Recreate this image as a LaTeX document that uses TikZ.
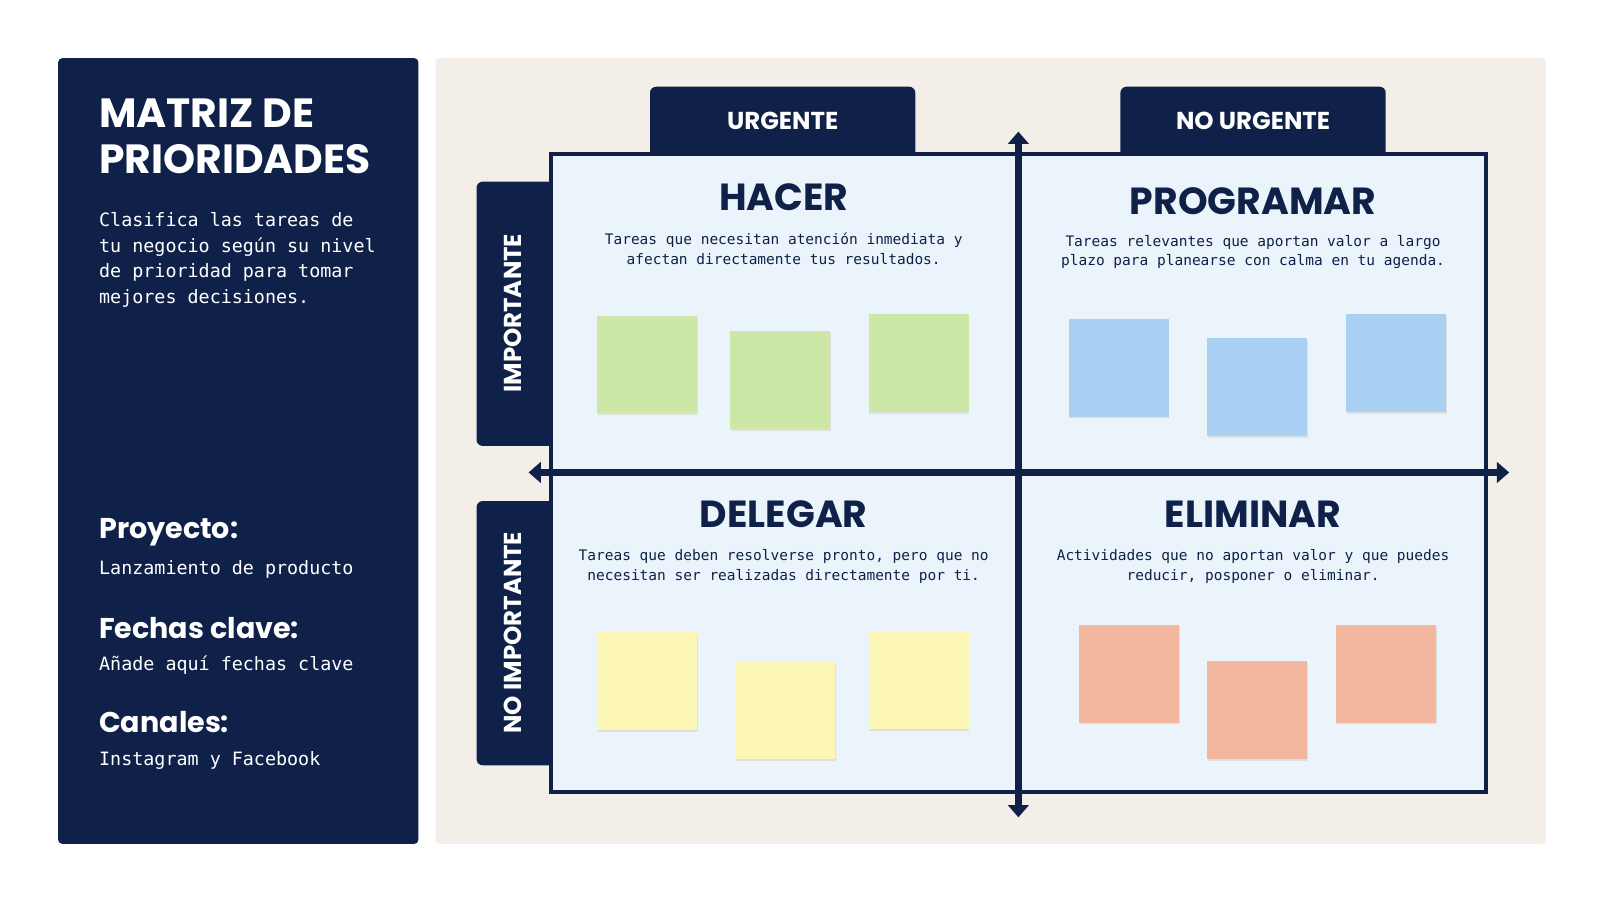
\documentclass[tikz,border=0pt]{standalone}
\usepackage{fontspec}
\setmainfont{Poppins}
\setmonofont{DejaVu Sans Mono}
\usetikzlibrary{arrows.meta,positioning}
\definecolor{navy}{HTML}{0F2149}
\definecolor{beige}{HTML}{F3EFE8}
\definecolor{cell}{HTML}{EAF4FA}
\definecolor{notegreen}{HTML}{CDE8A6}
\definecolor{noteblue}{HTML}{A8D0F2}
\definecolor{noteyellow}{HTML}{FCF7B6}
\definecolor{notered}{HTML}{F3B7A0}
\tikzset{
  tab/.style={fill=navy, rounded corners=6pt},
  tablabel/.style={text=white, font=\fontsize{24}{24}\selectfont\bfseries},
  quadtitle/.style={text=navy, font=\fontsize{37}{37}\selectfont\bfseries},
  quaddesc/.style={text=navy, align=center, font=\ttfamily\fontsize{14.2}{19.5}\selectfont},
  note/.style={fill=#1, minimum width=98pt, minimum height=96pt, inner sep=0pt, anchor=north west},
  infohead/.style={text=white, anchor=west, font=\fontsize{28}{28}\selectfont\bfseries},
  infotext/.style={text=white, anchor=west, font=\ttfamily\fontsize{18}{18}\selectfont},
  axis/.style={navy, line width=7pt, {Triangle[length=12pt,width=20pt]}-{Triangle[length=12pt,width=20pt]}}
}
\begin{document}
\begin{tikzpicture}[x=1pt, y=-1pt]
    \useasboundingbox (0,0) rectangle (1568,882);
    \fill[white] (0,0) rectangle (1568,882);
    % Panels
    \fill[navy, rounded corners=4pt] (57,57) rectangle (410,827);
    \fill[beige, rounded corners=4pt] (427,57) rectangle (1515,827);

    % Left text
    \node[text=white, anchor=north west, align=left, inner sep=0pt,
          font=\fontsize{40}{45}\selectfont\bfseries] (title) at (97,97) {MATRIZ DE\\PRIORIDADES};
    \node[text=white, anchor=north west, align=left, inner sep=0pt,
          font=\ttfamily\fontsize{18}{25}\selectfont] (intro) at (97,208)
          {Clasifica las tareas de\\tu negocio según su nivel\\de prioridad para tomar\\mejores decisiones.};
    \node[infohead, inner sep=0pt] (proyecto) at (97,522) {Proyecto:};
    \node[infotext, inner sep=0pt] (proyectotxt) at (97,558) {Lanzamiento de producto};
    \node[infohead, inner sep=0pt] (fechas) at (97,615) {Fechas clave:};
    \node[infotext, inner sep=0pt] (fechastxt) at (97,652) {Añade aquí fechas clave};
    \node[infohead, inner sep=0pt] (canales) at (97,708) {Canales:};
    \node[infotext, inner sep=0pt] (canalestxt) at (97,745) {Instagram y Facebook};

    % Tabs
    \fill[tab] (637,85) rectangle (897,170);
    \fill[tab] (1098,85) rectangle (1358,170);
    \fill[tab] (467,178) rectangle (560,437);
    \fill[tab] (467,491) rectangle (560,750);
    \node[tablabel] (urgente) at (767,118) {URGENTE};
    \node[tablabel] (nourgente) at (1228,118) {NO URGENTE};
    \node[tablabel, rotate=90] (importante) at (503,307) {IMPORTANTE};
    \node[tablabel, rotate=90] (noimportante) at (503,620) {NO IMPORTANTE};

    % Grid
    \draw[navy, line width=4pt, fill=cell] (540,151) rectangle (1456,776);
    \coordinate (top) at (998,129);
    \coordinate (bottom) at (998,801);
    \coordinate (left) at (518,463);
    \coordinate (right) at (1479,463);
    \draw[axis] (top) -- (bottom);
    \draw[axis] (left) -- (right);

    % Quadrants
    \node[quadtitle] (hacer) at (768,193) {HACER};
    \node[quaddesc] (hacerdesc) at (768,244) {Tareas que necesitan atención inmediata y\\afectan directamente tus resultados.};
    \node[quadtitle] (programar) at (1228,197) {PROGRAMAR};
    \node[quaddesc] (programardesc) at (1228,247) {Tareas relevantes que aportan valor a largo\\plazo para planearse con calma en tu agenda.};
    \node[quadtitle] (delegar) at (768,504) {DELEGAR};
    \node[quaddesc] (delegardesc) at (768,555) {Tareas que deben resolverse pronto, pero que no\\necesitan ser realizadas directamente por ti.};
    \node[quadtitle] (eliminar) at (1228,504) {ELIMINAR};
    \node[quaddesc] (eliminardesc) at (1228,555) {Actividades que no aportan valor y que puedes\\reducir, posponer o eliminar.};

    % Sticky notes
    \foreach \x/\y/\c in {585/309/notegreen, 715/324/notegreen, 851/308/notegreen,
                          1047/312/noteblue, 1183/331/noteblue, 1319/308/noteblue,
                          585/619/noteyellow, 720/648/noteyellow, 851/618/noteyellow,
                          1057/612/notered, 1183/648/notered, 1309/612/notered} {
        \fill[black!12] (\x+1,\y+2) rectangle (\x+99,\y+98);
        \node[note=\c] at (\x,\y) {};
    }
\end{tikzpicture}
\end{document}
